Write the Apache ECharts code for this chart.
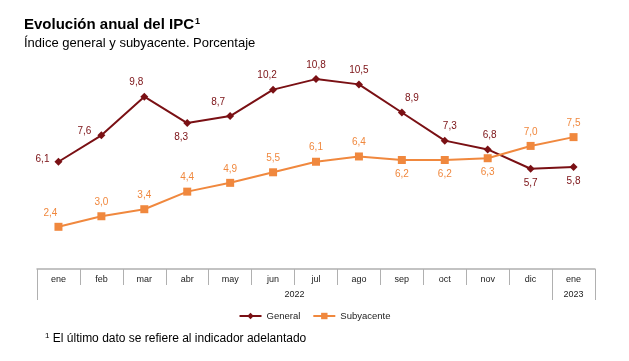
<!DOCTYPE html>
<html><head><meta charset="utf-8">
<script src="https://cdn.jsdelivr.net/npm/echarts@6/dist/echarts.min.js"></script>
<style>html,body{margin:0;padding:0;background:#fff}#c{width:629px;height:361px}</style>
</head><body><div id="c"></div>
<script>
const months = ['ene','feb','mar','abr','may','jun','jul','ago','sep','oct','nov','dic','ene'];
const years = ['2022','2023'];
const general = [6.1,7.6,9.8,8.3,8.7,10.2,10.8,10.5,8.9,7.3,6.8,5.7,5.8];
const subyacente = [2.4,3.0,3.4,4.4,4.9,5.5,6.1,6.4,6.2,6.2,6.3,7.0,7.5];
const generalLabelPos = ['left','left','top','bottom','top','top','top','top','top','top','top','bottom','bottom'];
const subLabelPos = ['top','top','top','top','top','top','top','top','bottom','bottom','bottom','top','top'];

const RED = '#7a1014', ORANGE = '#f0883e';
const fmt = v => String(v.toFixed(1)).replace('.', ',');
const font = 'Liberation Sans, Arial, sans-serif';

const genOffsets = [[0,-2],[-1,-4],[-8,0],[-6,0],[-12,0],[-6,0],[0,0],[0,0],[10,0],[5,0],[2,0],[0,0],[0,0]];
const subOffsets = [[-8,0],[0,0],[0,0],[0,0],[0,0],[0,0],[0,0],[0,0],[0,0],[0,0],[0,0],[0,0],[0,0]];

const chart = echarts.init(document.getElementById('c'));
chart.setOption({
  animation: false,
  textStyle: {fontFamily: font},
  title: [
    {text: 'Evolución anual del IPC{s|1}', left: 19, top: 12,
     textStyle: {fontSize: 15, fontWeight: 'bold', color: '#000', fontFamily: font,
       rich: {s: {fontSize: 9, fontWeight: 'bold', verticalAlign: 'top', padding: [0,0,6,1], color: '#000', fontFamily: font}}}},
    {text: 'Índice general y subyacente. Porcentaje', left: 19, top: 32,
     textStyle: {fontSize: 13, fontWeight: 'normal', color: '#000', fontFamily: font}},
    {text: '{s|1} El último dato se refiere al indicador adelantado', left: 40, top: 327,
     textStyle: {fontSize: 12, fontWeight: 'normal', color: '#000', fontFamily: font,
       rich: {s: {fontSize: 8, padding: [0,0,6,0], color: '#000', fontFamily: font}}}}
  ],
  legend: {
    top: 306, left: 'center', itemWidth: 22, itemHeight: 8, itemGap: 12,
    textStyle: {fontSize: 9.5, color: '#222', fontFamily: font},
    data: [{name: 'General'}, {name: 'Subyacente'}]
  },
  grid: {left: 37, right: 34, top: 58, bottom: 92},
  xAxis: [
    {type: 'category', data: months, boundaryGap: true, position: 'bottom',
     axisLine: {show: true, lineStyle: {color: '#b0b0b0', width: 1.5}},
     axisTick: {show: true, interval: 0, length: 16, lineStyle: {color: '#b0b0b0', width: 1}},
     axisLabel: {interval: 0, fontSize: 9, color: '#222', margin: 6, fontFamily: font}},
    {type: 'value', min: 0, max: months.length, position: 'bottom',
     axisLine: {show: false},
     axisTick: {show: true, customValues: [0, 12, 13], length: 31, lineStyle: {color: '#b0b0b0', width: 1}},
     axisLabel: {show: true, customValues: [6, 12.5], margin: 21, fontSize: 9, color: '#222', fontFamily: font,
       formatter: v => v < 12 ? years[0] : years[1]},
     splitLine: {show: false}}
  ],
  yAxis: {type: 'value', min: 0, max: 12, show: false, splitLine: {show: false}},
  series: [
    {name: 'General', type: 'line', xAxisIndex: 0,
     data: general.map((v, i) => ({value: v, label: {position: generalLabelPos[i], offset: genOffsets[i]}})),
     symbol: 'diamond', symbolSize: 8,
     lineStyle: {color: RED, width: 2}, itemStyle: {color: RED},
     label: {show: true, formatter: p => fmt(p.value), fontSize: 10, color: RED, distance: 5, fontFamily: font}},
    {name: 'Subyacente', type: 'line', xAxisIndex: 0,
     data: subyacente.map((v, i) => ({value: v, label: {position: subLabelPos[i], offset: subOffsets[i]}})),
     symbol: 'rect', symbolSize: 8,
     lineStyle: {color: ORANGE, width: 2}, itemStyle: {color: ORANGE},
     label: {show: true, formatter: p => fmt(p.value), fontSize: 10, color: ORANGE, distance: 5, fontFamily: font}}
  ]
});
</script></body></html>
